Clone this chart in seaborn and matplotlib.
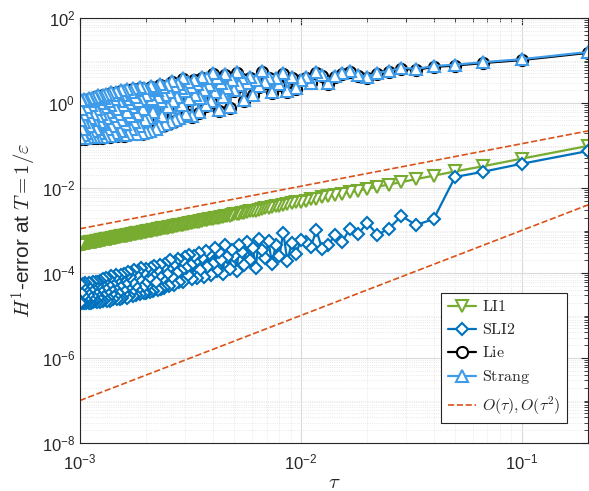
import matplotlib

matplotlib.use("Agg")
import matplotlib.pyplot as plt
import matplotlib.ticker as mticker
import numpy as np
import seaborn as sns

# step sizes tau = 1/N, N = 5, 10, ..., 1000
n_steps = np.arange(5, 1001, 5)
tau = 1.0 / n_steps

# log10 of the H^1 error (ordered by N = 5, 10, ...)
li1_log = [
    -1.01, -1.31, -1.49, -1.61, -1.71, -1.79, -1.86, -1.92, -1.97, -2.02,
    -2.06, -2.10, -2.13, -2.16, -2.19, -2.22, -2.25, -2.27, -2.30, -2.32,
    -2.34, -2.36, -2.38, -2.40, -2.42, -2.43, -2.45, -2.47, -2.48, -2.50,
    -2.51, -2.53, -2.54, -2.55, -2.57, -2.58, -2.59, -2.60, -2.61, -2.62,
    -2.63, -2.65, -2.66, -2.67, -2.68, -2.69, -2.70, -2.70, -2.71, -2.72,
    -2.73, -2.74, -2.75, -2.76, -2.76, -2.77, -2.78, -2.79, -2.79, -2.80,
    -2.81, -2.82, -2.82, -2.83, -2.84, -2.84, -2.85, -2.86, -2.86, -2.87,
    -2.88, -2.88, -2.89, -2.89, -2.90, -2.91, -2.91, -2.92, -2.92, -2.93,
    -2.93, -2.94, -2.94, -2.95, -2.95, -2.96, -2.97, -2.97, -2.97, -2.98,
    -2.98, -2.99, -2.99, -3.00, -3.00, -3.01, -3.01, -3.02, -3.02, -3.03,
    -3.03, -3.04, -3.04, -3.04, -3.05, -3.05, -3.06, -3.06, -3.06, -3.07,
    -3.07, -3.08, -3.08, -3.08, -3.09, -3.09, -3.10, -3.10, -3.10, -3.11,
    -3.11, -3.11, -3.12, -3.12, -3.12, -3.13, -3.13, -3.13, -3.14, -3.14,
    -3.14, -3.15, -3.15, -3.15, -3.16, -3.16, -3.16, -3.17, -3.17, -3.17,
    -3.18, -3.18, -3.18, -3.19, -3.19, -3.19, -3.20, -3.20, -3.20, -3.20,
    -3.21, -3.21, -3.21, -3.22, -3.22, -3.22, -3.22, -3.23, -3.23, -3.23,
    -3.24, -3.24, -3.24, -3.24, -3.25, -3.25, -3.25, -3.25, -3.26, -3.26,
    -3.26, -3.26, -3.27, -3.27, -3.27, -3.27, -3.28, -3.28, -3.28, -3.28,
    -3.29, -3.29, -3.29, -3.29, -3.30, -3.30, -3.30, -3.30, -3.31, -3.31,
    -3.31, -3.31, -3.31, -3.32, -3.32, -3.32, -3.32, -3.33, -3.33, -3.33,
]

sli2_log = [
    -1.13, -1.43, -1.62, -1.74, -2.73, -2.87, -2.66, -2.96, -3.10, -2.82,
    -3.08, -2.96, -3.27, -3.10, -3.34, -3.44, -2.99, -3.39, -3.28, -3.22,
    -3.55, -3.30, -3.72, -3.05, -3.60, -3.35, -3.78, -3.25, -3.65, -3.45,
    -3.20, -3.88, -3.40, -3.70, -3.27, -3.82, -3.50, -3.33, -3.95, -3.60,
    -3.45, -3.90, -3.62, -3.35, -4.02, -3.70, -3.50, -3.95, -3.40, -3.78,
    -4.05, -3.55, -3.85, -3.48, -4.10, -3.65, -3.92, -3.52, -4.12, -3.75,
    -3.60, -4.15, -3.80, -3.58, -4.05, -3.88, -3.62, -4.20, -3.72, -3.95,
    -4.22, -3.68, -4.00, -3.75, -4.28, -3.82, -4.10, -3.70, -4.30, -3.90,
    -4.02, -3.78, -4.35, -3.85, -4.15, -4.38, -3.80, -4.08, -4.40, -3.92,
    -4.20, -3.83, -4.42, -4.05, -3.88, -4.45, -4.12, -3.95, -4.30, -4.47,
    -3.90, -4.25, -4.48, -4.00, -4.35, -3.88, -4.50, -4.15, -3.95, -4.40,
    -4.52, -4.05, -4.30, -3.92, -4.55, -4.20, -4.00, -4.45, -4.10, -4.55,
    -3.98, -4.35, -4.58, -4.08, -4.25, -4.50, -4.02, -4.40, -4.58, -4.15,
    -4.05, -4.60, -4.30, -4.10, -4.48, -4.62, -4.18, -4.05, -4.55, -4.35,
    -4.12, -4.62, -4.25, -4.50, -4.08, -4.65, -4.38, -4.15, -4.58, -4.28,
    -4.66, -4.12, -4.45, -4.60, -4.20, -4.35, -4.67, -4.15, -4.52, -4.25,
    -4.62, -4.18, -4.68, -4.40, -4.22, -4.58, -4.30, -4.68, -4.20, -4.50,
    -4.65, -4.28, -4.45, -4.69, -4.22, -4.55, -4.35, -4.70, -4.25, -4.60,
    -4.40, -4.70, -4.23, -4.52, -4.68, -4.30, -4.45, -4.70, -4.24, -4.62,
    -4.38, -4.71, -4.26, -4.55, -4.70, -4.32, -4.48, -4.68, -4.25, -4.71,
]

strang_log = [
    1.20, 1.03, 0.96, 0.90, 0.87, 0.80, 0.83, 0.75, 0.71, 0.62,
    0.66, 0.75, 0.71, 0.64, 0.47, 0.66, 0.72, 0.48, 0.62, 0.55,
    0.35, 0.62, 0.28, 0.70, 0.45, 0.58, 0.26, 0.60, 0.50, 0.75,
    0.40, 0.55, 0.20, 0.62, 0.48, 0.07, 0.58, 0.42, 0.72, 0.30,
    0.55, -0.10, 0.35, 0.68, 0.15, 0.48, -0.16, 0.60, 0.25, 0.70,
    0.05, 0.42, 0.58, -0.05, 0.30, 0.62, 0.12, -0.22, 0.45, 0.20,
    0.55, -0.30, 0.38, 0.10, 0.50, -0.25, 0.28, 0.58, -0.05, 0.35,
    -0.35, 0.45, 0.15, -0.40, 0.40, 0.05, 0.52, -0.45, 0.25, -0.10,
    0.42, -0.50, 0.20, 0.38, -0.30, 0.05, 0.45, -0.55, 0.15, 0.30,
    -0.60, 0.35, -0.20, 0.10, 0.40, -0.65, 0.22, -0.35, 0.30, -0.68,
    0.20, -0.40, 0.35, -0.15, -0.70, 0.10, 0.38, -0.55, 0.05, -0.25,
    0.30, -0.72, 0.15, -0.45, 0.35, -0.10, -0.60, 0.25, -0.30, 0.00,
    -0.74, 0.32, -0.20, 0.10, -0.50, 0.28, -0.75, -0.05, 0.20, -0.40,
    0.30, -0.65, 0.05, -0.25, 0.22, -0.76, -0.15, 0.25, -0.45, 0.10,
    -0.70, 0.18, -0.30, 0.26, -0.55, -0.05, -0.78, 0.20, -0.20, 0.05,
    -0.60, 0.22, -0.35, -0.78, 0.12, -0.10, -0.50, 0.20, -0.80, -0.25,
    0.15, -0.45, 0.00, -0.70, 0.18, -0.30, -0.80, 0.10, -0.15, -0.60,
    0.15, -0.40, -0.80, 0.05, -0.25, 0.12, -0.65, -0.05, -0.81, 0.10,
    -0.35, -0.55, 0.12, -0.80, -0.20, 0.05, -0.70, -0.10, 0.08, -0.82,
    -0.45, 0.10, -0.25, -0.75, 0.05, -0.60, -0.15, 0.07, -0.82, -0.40,
]
# Lie sits just under Strang everywhere in the figure
lie_log = list(strang_log)

# reference slopes, end points only
ref_tau = [1e-3, 0.2]
order1 = [1.1e-3, 0.22]
order2 = [1.0e-7, 4.0e-3]

GREEN = "#77AC30"
BLUE = "#0072BD"
LIGHTBLUE = "#3D9BE9"
ORANGE = "#D95319"

sns.set_style("white")
plt.rcParams["font.family"] = ["Liberation Sans", "DejaVu Sans"]
plt.rcParams["mathtext.fontset"] = "cm"

fig = plt.figure(figsize=(5.89, 4.91), dpi=100)
ax = fig.add_axes([80 / 589, 48 / 491, 508 / 589, 425 / 491])

common = dict(ax=ax, sort=False, linewidth=1.6, markersize=8,
              markeredgewidth=1.5, markerfacecolor="white")
sns.lineplot(x=tau, y=10.0 ** np.array(li1_log), color=GREEN, marker="v",
             markeredgecolor=GREEN, label=r"$\mathrm{LI1}$", **common)
sns.lineplot(x=tau, y=10.0 ** np.array(sli2_log), color=BLUE, marker="D",
             markeredgecolor=BLUE, label=r"$\mathrm{SLI2}$",
             **{**common, "markersize": 6.5})
sns.lineplot(x=tau, y=10.0 ** (np.array(lie_log) - 0.02), color="black",
             marker="o", markeredgecolor="black", label=r"$\mathrm{Lie}$",
             **common)
sns.lineplot(x=tau, y=10.0 ** np.array(strang_log), color=LIGHTBLUE,
             marker="^", markeredgecolor=LIGHTBLUE, label=r"$\mathrm{Strang}$",
             **common)
sns.lineplot(x=ref_tau, y=order1, color=ORANGE, linestyle="--", linewidth=1.2,
             ax=ax, label=r"$O(\tau), O(\tau^2)$")
sns.lineplot(x=ref_tau, y=order2, color=ORANGE, linestyle="--", linewidth=1.2,
             ax=ax, label="_nolegend_")

ax.set_xscale("log")
ax.set_yscale("log")
ax.set_xlim(1e-3, 0.2)
ax.set_ylim(1e-8, 1e2)
ax.yaxis.set_major_locator(mticker.FixedLocator([1e-8, 1e-6, 1e-4, 1e-2, 1e0, 1e2]))
ax.yaxis.set_minor_locator(mticker.LogLocator(base=10, subs=np.arange(1, 10), numticks=30))
ax.xaxis.set_minor_locator(mticker.LogLocator(base=10, subs=np.arange(2, 10), numticks=30))
ax.yaxis.set_minor_formatter(mticker.NullFormatter())
ax.xaxis.set_minor_formatter(mticker.NullFormatter())

ax.grid(True, which="major", color="#DADADA", linewidth=0.8, linestyle="-")
ax.grid(True, which="minor", color="#E2E2E2", linewidth=0.6, linestyle=":")
ax.set_axisbelow(True)
ax.tick_params(which="both", direction="in", top=True, right=True,
               labelsize=12, colors="#262626")
ax.tick_params(axis="x", which="major", pad=7)
ax.tick_params(which="major", length=5)
ax.tick_params(which="minor", length=3)
for sp in ax.spines.values():
    sp.set_color("#262626")
    sp.set_linewidth(0.8)

ax.set_xlabel(r"$\tau$", fontsize=15, labelpad=0)
ax.set_ylabel(r"$H^1$-error at $T = 1/\varepsilon$", fontsize=15, labelpad=2)

leg = ax.legend(loc="lower right", bbox_to_anchor=(0.958, 0.047), fontsize=11.5,
                frameon=True, fancybox=False, framealpha=1, edgecolor="#262626",
                handlelength=1.75, borderpad=0.4, labelspacing=0.5,
                handletextpad=0.4, borderaxespad=0)
leg.get_frame().set_linewidth(0.8)

fig.savefig("out.png", dpi=100)
plt.close(fig)
